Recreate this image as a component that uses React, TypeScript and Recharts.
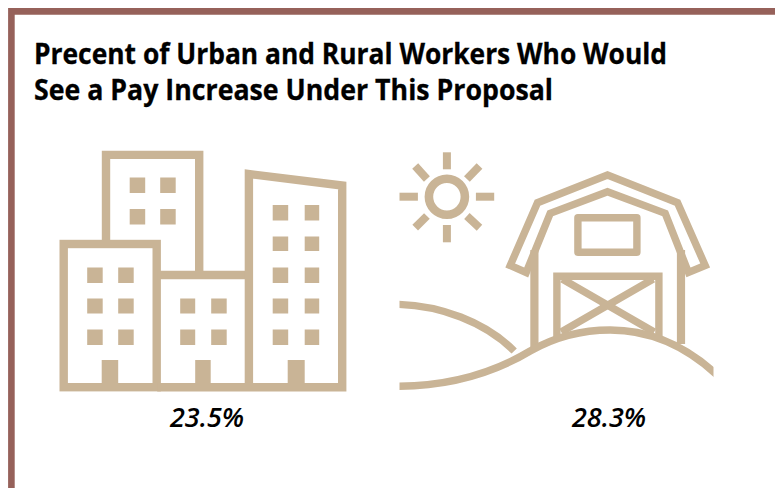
import React from 'react';
import { BarChart, Bar, XAxis, YAxis } from 'recharts';

const categories = ['Urban', 'Rural'];
const shares = [23.5, 28.3];
const titleLines = [
  'Precent of Urban and Rural Workers Who Would',
  'See a Pay Increase Under This Proposal',
];

const data = categories.map((name, i) => ({ name, share: shares[i] }));

const TAN = '#C9B496';
const FRAME = '#96615A';
const FONT = '"Open Sans", sans-serif';

// [x, y, w, h] for the building windows and doors
const cityBlocks = [
  [129.5, 177.5, 15.5, 15.5], [160, 177.5, 15.5, 15.5], [129.5, 209, 15.5, 15.5], [160, 209, 15.5, 15.5],
  [87, 267.5, 15.5, 15.5], [118, 267.5, 15.5, 15.5], [87, 298.5, 15.5, 15], [118, 298.5, 15.5, 15],
  [87, 329.5, 15.5, 15.5], [118, 329.5, 15.5, 15.5],
  [180, 298.5, 15, 15], [211, 298.5, 15.5, 15], [180, 329.5, 15, 15.5], [211, 329.5, 15.5, 15.5],
  [272.5, 205, 15.5, 15.5], [304.5, 205, 14.5, 15.5], [272.5, 236.5, 15.5, 14.5], [304.5, 236.5, 14.5, 14.5],
  [272.5, 267.5, 15.5, 15.5], [304.5, 267.5, 14.5, 15.5], [272.5, 298.5, 15.5, 15], [304.5, 298.5, 14.5, 15],
  [272.5, 329.5, 15.5, 15.5], [304.5, 329.5, 14.5, 15.5],
  [101.5, 360, 16.5, 24], [195, 360, 15.5, 24], [287.5, 360, 17, 24],
];

const CityIcon = ({ dx }: { dx: number }) => (
  <g transform={`translate(${dx} 0)`} fill="none" stroke={TAN} strokeWidth={8.4}>
    <rect x={63.5} y={244} width={93} height={143.2} />
    <path d="M105.8 240 V154.9 H199 V271" />
    <path d="M157 275 H248.5" />
    <path d="M157 387.2 H342 V185.5 L248.7 174 V387" />
    {cityBlocks.map(([x, y, w, h], i) => (
      <rect key={i} x={x} y={y} width={w} height={h} fill={TAN} stroke="none" />
    ))}
  </g>
);

const sunRays = [
  'M446.7 152.3 V169.3', 'M446.7 225 V242.3', 'M399.3 196.7 H417.7', 'M475.7 196.7 H494',
  'M415 166 L426.7 179', 'M479.3 166 L466.7 179', 'M415 227.7 L426.7 216', 'M479.3 227.7 L466.7 216',
];

const BarnIcon = ({ dx }: { dx: number }) => (
  <g transform={`translate(${dx} 0)`} fill="none" stroke={TAN} strokeWidth={7.4}>
    <clipPath id="land">
      <rect x={399.3} y={290} width={314} height={110} />
    </clipPath>

    {/* sun */}
    <circle cx={446.7} cy={196.7} r={18} strokeWidth={8.6} />
    {sunRays.map((d, i) => <path key={i} d={d} strokeWidth={8} />)}

    {/* roof, walls, loft window, door */}
    <path d="M510 265.5 L537.3 202.7 L607.3 175 L677.3 202.7 L705 265.5 L688.3 272.5 L665 213.3 L607.3 191.7 L550 213.3 L526 272.5 Z" />
    <path d="M534.2 250 V349 M680.8 250 V344" strokeWidth={8.2} />
    <rect x={577.7} y={217.7} width={59} height={34.6} strokeLinejoin="round" />
    <path d="M556.7 337 V276.3 H658.7 V337" />
    <path d="M562 279 L654 332 M653 279 L561 332" />

    {/* hills */}
    <g clipPath="url(#land)">
      <path d="M395 386.3 C450 386.3 495 372 530 351 C560 334 590 330 610 330 C650 330 685 345 718 376" />
      <path d="M395 304.3 C440 305 485 322 514 351" />
    </g>
  </g>
);

// Each bar is drawn as a pictograph centred on its band
const IconShape = (props: any) => {
  const cx = props.x + props.width / 2;
  return props.payload.name === 'Urban'
    ? <CityIcon dx={cx - 207} />
    : <BarnIcon dx={cx - 609} />;
};

export default function App() {
  return (
    <div style={{ position: 'absolute', left: 0, top: 0, width: 775, height: 488, background: '#fff', overflow: 'hidden' }}>
      <BarChart
        width={775}
        height={488}
        data={data}
        margin={{ top: 140, right: -35, bottom: 58, left: 6 }}
      >
        <path d="M775 11.4 H11.4 V488" fill="none" stroke={FRAME} strokeWidth={6.6} />
        <text x={34} y={64} fontFamily={FONT} fontWeight={700} fontSize={28} stroke="#000" strokeWidth={0.3} fill="#000" textLength={633} lengthAdjust="spacingAndGlyphs">
          {titleLines[0]}
        </text>
        <text x={34} y={100} fontFamily={FONT} fontWeight={700} fontSize={28} stroke="#000" strokeWidth={0.3} fill="#000" textLength={519} lengthAdjust="spacingAndGlyphs">
          {titleLines[1]}
        </text>
        <XAxis
          dataKey="name"
          axisLine={false}
          tickLine={false}
          height={40}
          interval={0}
          tickMargin={12}
          tickFormatter={(name: string) => `${shares[categories.indexOf(name)]}%`}
          tick={{ fontFamily: FONT, fontStyle: 'italic', fontWeight: 600, fontSize: 27, fill: '#000' }}
        />
        <YAxis hide domain={[0, 30]} />
        <Bar dataKey="share" shape={IconShape} isAnimationActive={false} />
      </BarChart>
    </div>
  );
}
